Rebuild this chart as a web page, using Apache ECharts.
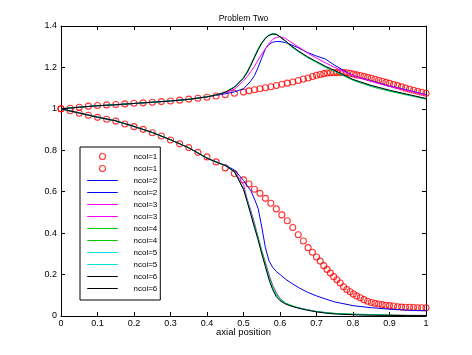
<!DOCTYPE html>
<html><head><meta charset="utf-8">
<script src="https://cdn.jsdelivr.net/npm/echarts@6/dist/echarts.min.js"></script>
<style>html,body{margin:0;padding:0;background:#fff}#c{width:472px;height:355px}</style>
</head><body><div id="c"></div>
<script>
const xTickLabels = ['0','0.1','0.2','0.3','0.4','0.5','0.6','0.7','0.8','0.9','1'];
const yTickLabels = ['0','0.2','0.4','0.6','0.8','1','1.2','1.4'];

// ncol=1 (circles)
const xRed = [0,0.025,0.05,0.075,0.1,0.125,0.15,0.175,0.2,0.225,0.25,0.275,0.3,0.325,0.35,0.375,0.4,0.425,0.45,0.475,0.5,
  0.515,0.53,0.545,0.56,0.575,0.59,0.605,0.62,0.635,0.65,0.664,0.677,0.689,0.7,
  0.71,0.72,0.729,0.738,0.747,0.756,0.765,0.774,0.783,0.792,
  0.801,0.81,0.82,0.83,0.84,0.85,0.86,0.87,0.88,0.89,0.9,
  0.911,0.922,0.933,0.944,0.955,0.966,0.977,0.988,1.0];
const redUpper = [1.0,1.003,1.008,1.013,1.016,1.019,1.021,1.024,1.027,1.029,1.032,1.035,1.038,1.042,1.047,1.051,1.056,1.062,1.068,1.075,1.081,
  1.087,1.092,1.097,1.102,1.107,1.113,1.119,1.124,1.130,1.137,1.144,1.149,1.156,1.162,
  1.166,1.170,1.173,1.174,1.175,1.175,1.175,1.175,1.174,1.172,
  1.168,1.164,1.161,1.157,1.152,1.148,1.143,1.138,1.133,1.128,1.123,
  1.117,1.112,1.106,1.100,1.095,1.090,1.085,1.080,1.075];
const redLower = [1.0,0.991,0.979,0.969,0.959,0.950,0.941,0.927,0.914,0.901,0.885,0.869,0.850,0.831,0.813,0.79,0.768,0.744,0.715,0.688,0.657,
  0.637,0.612,0.592,0.568,0.544,0.517,0.488,0.46,0.427,0.392,0.362,0.33,0.308,0.285,
  0.265,0.243,0.225,0.207,0.19,0.175,0.159,0.141,0.128,0.117,
  0.106,0.097,0.088,0.079,0.071,0.065,0.061,0.058,0.055,0.052,0.050,
  0.048,0.045,0.043,0.042,0.042,0.041,0.040,0.040,0.040];

// ncol=2..6 (lines)
const xLine = [0,0.05,0.1,0.15,0.2,0.25,0.3,0.35,0.4,0.425,0.45,0.475,0.5,0.51,0.52,0.53,0.54,0.55,0.56,0.57,0.58,0.59,0.6,0.615,0.63,0.65,0.675,0.7,0.725,0.75,0.8,0.85,0.9,0.95,1.0];
const blueUpper  = [1.0,1.008,1.015,1.02,1.026,1.032,1.038,1.046,1.058,1.065,1.073,1.082,1.097,1.115,1.135,1.16,1.2,1.245,1.29,1.312,1.322,1.325,1.325,1.32,1.31,1.295,1.272,1.255,1.24,1.21,1.16,1.135,1.11,1.09,1.068];
const blueLower  = [1.0,0.98,0.96,0.942,0.915,0.886,0.851,0.812,0.762,0.745,0.728,0.705,0.655,0.63,0.605,0.565,0.52,0.43,0.33,0.265,0.235,0.215,0.2,0.178,0.16,0.138,0.115,0.097,0.082,0.068,0.05,0.04,0.033,0.028,0.025];
const magUpper   = [1.0,1.008,1.015,1.02,1.026,1.032,1.038,1.046,1.058,1.066,1.077,1.095,1.135,1.155,1.18,1.205,1.235,1.265,1.29,1.316,1.335,1.345,1.348,1.34,1.322,1.3,1.27,1.245,1.222,1.2,1.16,1.133,1.108,1.088,1.066];
const magLower   = [1.0,0.98,0.96,0.942,0.915,0.886,0.851,0.812,0.762,0.743,0.726,0.697,0.635,0.565,0.51,0.45,0.38,0.315,0.26,0.2,0.148,0.112,0.085,0.062,0.05,0.04,0.03,0.022,0.016,0.012,0.008,0.006,0.004,0.003,0.003];
const greenUpper = [1.0,1.008,1.015,1.02,1.026,1.032,1.038,1.046,1.058,1.067,1.08,1.106,1.152,1.18,1.215,1.253,1.29,1.32,1.343,1.357,1.363,1.36,1.347,1.326,1.302,1.276,1.248,1.224,1.2,1.18,1.138,1.108,1.085,1.066,1.047];
const greenLower = [1.0,0.98,0.96,0.942,0.915,0.886,0.851,0.812,0.762,0.743,0.726,0.697,0.615,0.56,0.5,0.44,0.38,0.315,0.255,0.192,0.143,0.107,0.083,0.063,0.052,0.04,0.03,0.022,0.017,0.013,0.009,0.007,0.005,0.003,0.002];
const cyanUpper  = [1.0,1.008,1.015,1.02,1.026,1.032,1.038,1.046,1.058,1.067,1.08,1.105,1.15,1.177,1.212,1.25,1.287,1.318,1.341,1.356,1.362,1.36,1.348,1.327,1.304,1.278,1.25,1.226,1.203,1.183,1.14,1.111,1.088,1.068,1.049];
const cyanLower  = [1.0,0.98,0.96,0.942,0.915,0.886,0.851,0.812,0.762,0.743,0.726,0.697,0.612,0.558,0.495,0.432,0.372,0.305,0.243,0.182,0.133,0.099,0.077,0.06,0.049,0.039,0.029,0.021,0.015,0.011,0.007,0.005,0.003,0.002,0.002];
const blackUpper = [1.0,1.008,1.015,1.02,1.026,1.032,1.038,1.046,1.058,1.067,1.08,1.104,1.148,1.175,1.21,1.248,1.285,1.317,1.34,1.355,1.361,1.36,1.348,1.328,1.305,1.28,1.252,1.228,1.205,1.185,1.142,1.113,1.09,1.07,1.05];
const blackLower = [1.0,0.98,0.96,0.942,0.915,0.886,0.851,0.812,0.762,0.743,0.726,0.697,0.612,0.552,0.49,0.428,0.368,0.3,0.238,0.175,0.127,0.093,0.074,0.058,0.048,0.038,0.028,0.02,0.014,0.01,0.006,0.004,0.003,0.002,0.002];

const legendNames = ['ncol=1','ncol=1','ncol=2','ncol=2','ncol=3','ncol=3','ncol=4','ncol=4','ncol=5','ncol=5','ncol=6','ncol=6'];

const zip = (xs, ys) => xs.map((x, i) => [x, ys[i]]);
const FONT = 'Liberation Sans, Arial, sans-serif';
const RED = '#ff0000';

function redSeries(idx, ys) {
  return {
    name: legendNames[idx] + '|' + idx, type: 'scatter', xAxisIndex: 0, yAxisIndex: 0,
    data: zip(xRed, ys), symbol: 'circle', symbolSize: 6,
    itemStyle: { color: 'rgba(0,0,0,0)', borderColor: RED, borderWidth: 1.1 },
    z: 2
  };
}
function lineSeries(idx, ys, color, z) {
  return {
    name: legendNames[idx] + '|' + idx, type: 'line', xAxisIndex: 0, yAxisIndex: 0,
    data: zip(xLine, ys), symbol: 'none', showSymbol: false,
    lineStyle: { color: color, width: 1 }, itemStyle: { color: color }, z: z
  };
}

const series = [
  redSeries(0, redUpper), redSeries(1, redLower),
  lineSeries(2, blueUpper, '#0000ee', 3), lineSeries(3, blueLower, '#0000ee', 3),
  lineSeries(4, magUpper, '#ff00ff', 4), lineSeries(5, magLower, '#ff00ff', 4),
  lineSeries(6, greenUpper, '#00cc00', 5), lineSeries(7, greenLower, '#00cc00', 5),
  lineSeries(8, cyanUpper, '#00e0e0', 6), lineSeries(9, cyanLower, '#00e0e0', 6),
  lineSeries(10, blackUpper, '#000000', 7), lineSeries(11, blackLower, '#000000', 7)
];

const legendData = series.map(s => s.type === 'scatter'
  ? { name: s.name, icon: 'circle', itemStyle: { color: 'rgba(0,0,0,0)', borderColor: RED, borderWidth: 1.1 } }
  : { name: s.name, icon: 'path://M0,0L30,0L30,0.001L0,0.001Z',
      itemStyle: { color: 'rgba(0,0,0,0)', borderColor: s.lineStyle.color, borderWidth: 1 },
      lineStyle: { width: 0, opacity: 0 } });

const axisCommon = {
  axisLine: { show: true, onZero: false, lineStyle: { color: '#000', width: 1 } },
  axisTick: { show: true, inside: true, length: 4, lineStyle: { color: '#000', width: 1 } },
  splitLine: { show: false }
};

const chart = echarts.init(document.getElementById('c'), null, { renderer: 'canvas' });
chart.setOption({
  animation: false,
  backgroundColor: '#ffffff',
  title: {
    text: 'Problem Two', left: 243.5, textAlign: 'center', top: 14, padding: 0,
    textStyle: { fontFamily: FONT, fontSize: 8.5, fontWeight: 'normal', color: '#000' }
  },
  grid: { left: 61, right: 46, top: 26, bottom: 39 },
  xAxis: [
    Object.assign({
      type: 'value', min: 0, max: 1, interval: 0.1, position: 'bottom',
      name: 'axial position', nameLocation: 'middle', nameGap: 11, nameMoveOverlap: false,
      nameTextStyle: { fontFamily: FONT, fontSize: 9.5, color: '#000' },
      axisLabel: { margin: 3, fontFamily: FONT, fontSize: 9, color: '#000',
        formatter: v => xTickLabels[Math.round(v * 10)] }
    }, axisCommon),
    Object.assign({
      type: 'value', min: 0, max: 1, interval: 0.1, position: 'top',
      axisLabel: { show: false }
    }, axisCommon)
  ],
  yAxis: [
    Object.assign({
      type: 'value', min: 0, max: 1.4, interval: 0.2, position: 'left',
      axisLabel: { margin: 4, fontFamily: FONT, fontSize: 9, color: '#000',
        formatter: v => yTickLabels[Math.round(v * 5)] }
    }, axisCommon),
    Object.assign({
      type: 'value', min: 0, max: 1.4, interval: 0.2, position: 'right',
      axisLabel: { show: false }
    }, axisCommon)
  ],
  legend: {
    orient: 'vertical', left: 80, top: 147,
    padding: [3.5, 3, 5.5, 7],
    backgroundColor: '#ffffff', borderColor: '#000', borderWidth: 1, borderRadius: 0,
    itemWidth: 30, itemHeight: 6, itemGap: 0,
    selectedMode: false,
    data: legendData,
    formatter: n => n.split('|')[0],
    textStyle: { fontFamily: FONT, fontSize: 8, color: '#000', lineHeight: 12, padding: [0, 0, 0, 11] }
  },
  series: series
});
</script></body></html>
